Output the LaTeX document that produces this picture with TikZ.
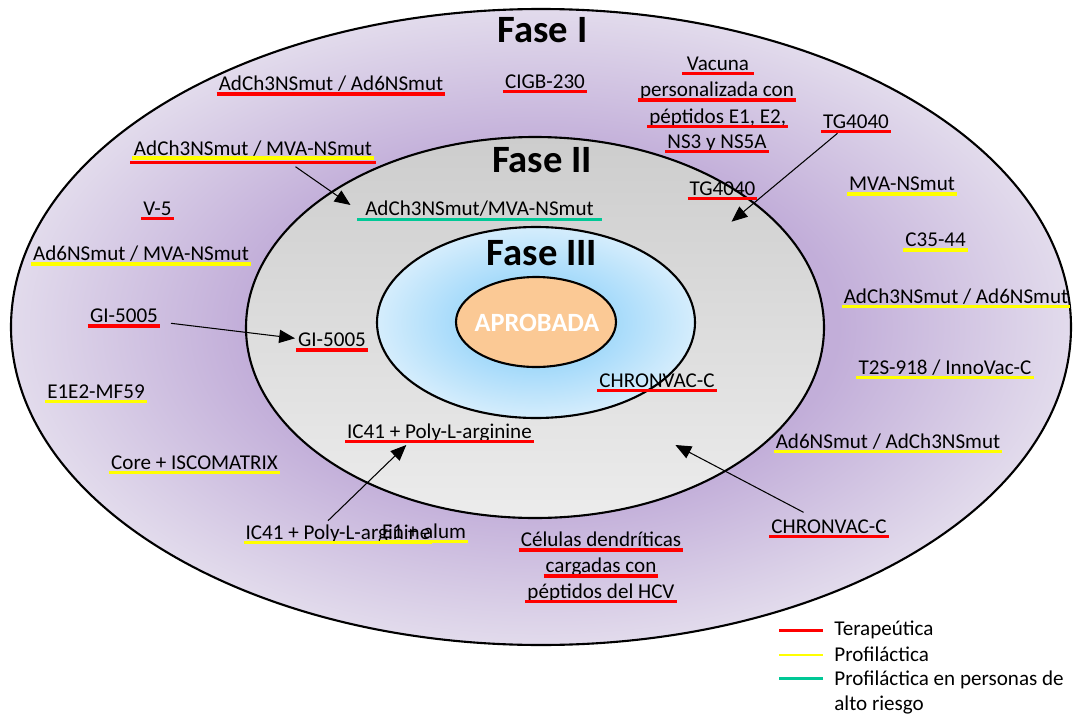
\documentclass[tikz,border=0pt]{standalone}
\usepackage{fontspec}
\setmainfont{Carlito}
\usepackage{tikz}
\usepackage{xcolor}
\usetikzlibrary{arrows.meta,calc}
\definecolor{lavdark}{HTML}{C2AED9}
\definecolor{lavlight}{HTML}{E2DBEC}
\definecolor{graytop}{HTML}{CDCDCD}
\definecolor{graybot}{HTML}{ECECEC}
\definecolor{blueinner}{HTML}{9DD7FA}
\definecolor{blueouter}{HTML}{D5EDFC}
\definecolor{peach}{HTML}{FBC995}
\definecolor{ulred}{HTML}{FF0000}
\definecolor{ulyellow}{HTML}{FFFF00}
\definecolor{ulgreen}{HTML}{00C896}
\pgfdeclareradialshading{lavring}{\pgfpoint{0bp}{0bp}}{color(0bp)=(lavdark); color(14bp)=(lavdark); color(25bp)=(lavlight); color(50bp)=(lavlight)}
\pgfdeclareradialshading{blueglow}{\pgfpoint{0bp}{0bp}}{color(0bp)=(blueinner); color(10bp)=(blueinner); color(25bp)=(blueouter); color(50bp)=(blueouter)}
\tikzset{
  ring/.style={draw=black,line width=1.2pt},
  fase/.style={font=\fontsize{22}{26}\selectfont\bfseries,anchor=base,inner sep=0pt},
  lbl/.style={font=\fontsize{12}{14}\selectfont,anchor=base,inner xsep=1pt,inner ysep=0pt},
  uline/.style={line width=1.9pt,-},
  terlbl/.style={lbl,append after command={
      ([yshift=-1.9pt]\tikzlastnode.base west) edge[uline,draw=ulred]
      ([yshift=-1.9pt]\tikzlastnode.base east)}},
  prolbl/.style={lbl,append after command={
      ([yshift=-1.9pt]\tikzlastnode.base west) edge[uline,draw=ulyellow]
      ([yshift=-1.9pt]\tikzlastnode.base east)}},
  risklbl/.style={lbl,append after command={
      ([yshift=-2.6pt]\tikzlastnode.base west) edge[uline,draw=ulgreen,line width=1.6pt]
      ([yshift=-2.6pt]\tikzlastnode.base east)}},
  bothlbl/.style={lbl,append after command={
      ([xshift=-1pt,yshift=-4.2pt]\tikzlastnode.base west) edge[uline,draw=ulred,line width=1.5pt]
      ([xshift=1pt,yshift=-4.2pt]\tikzlastnode.base east)
      ([yshift=-1.5pt]\tikzlastnode.base west) edge[uline,draw=ulyellow,line width=2.2pt]
      ([yshift=-1.5pt]\tikzlastnode.base east)}},
  arr/.style={-{Triangle[length=9pt,width=7.5pt]},line width=0.6pt,draw=black},
  key/.style={font=\fontsize{12}{14}\selectfont,anchor=base west,inner sep=0pt},
  keyline/.style={line width=1.6pt}
}
\begin{document}
\begin{tikzpicture}[x=0.02cm,y=-0.02cm]
    \path[use as bounding box] (0,0) rectangle (1073,717);

    \path[ring,shading=lavring] (541,327) ellipse [x radius=530,y radius=318];
    \path[ring,top color=graytop,bottom color=graybot] (535,327.5) ellipse [x radius=289,y radius=190.5];
    \path[ring,shading=blueglow] (536,322.5) ellipse [x radius=159,y radius=95.5];
    \path[ring,fill=peach] (536,322) ellipse [x radius=80,y radius=45];

    \node[fase] (faseI) at (542.5,42) {Fase I};
    \node[fase] (faseII) at (542,172) {Fase II};
    \node[fase] (faseIII) at (542,265) {Fase III};
    \node[fase,font=\fontsize{15}{18}\selectfont\bfseries,text=white] (aprobada) at (537,331) {APROBADA};

    \node[terlbl] (adad) at (331,90.7) {AdCh3NSmut / Ad6NSmut};
    \node[terlbl] (cigb) at (545,88.3) {CIGB-230};
    \node[terlbl,inner xsep=2.5pt] (vac1) at (718,70) {Vacuna};
    \node[terlbl] (vac2) at (717,96.7) {personalizada con};
    \node[terlbl] (vac3) at (717.7,123.3) {péptidos E1, E2,};
    \node[terlbl] (vac4) at (717,148.3) {NS3 y NS5A};
    \node[terlbl] (tgI) at (856,128.3) {TG4040};
    \node[bothlbl] (admva) at (253,155) {AdCh3NSmut / MVA-NSmut};
    \node[risklbl,inner xsep=4.5pt] (admvaII) at (479.5,215) {AdCh3NSmut/MVA-NSmut};
    \node[terlbl] (tgII) at (722.5,195) {TG4040};
    \node[prolbl] (mva) at (902,190.7) {MVA-NSmut};
    \node[terlbl] (vfive) at (157.5,215) {V-5};
    \node[prolbl] (cthirty) at (935.6,246.7) {C35-44};
    \node[prolbl] (adsixmva) at (141,260.7) {Ad6NSmut / MVA-NSmut};
    \node[prolbl] (adadR) at (956,303.3) {AdCh3NSmut / Ad6NSmut};
    \node[terlbl] (giI) at (124,322.7) {GI-5005};
    \node[terlbl] (giII) at (332,346.7) {GI-5005};
    \node[prolbl] (tts) at (945,374) {T2S-918 / InnoVac-C};
    \node[terlbl] (chIII) at (657,387.3) {CHRONVAC-C};
    \node[prolbl] (eoneetwo) at (96,398.3) {E1E2-MF59};
    \node[terlbl] (icII) at (439.5,438.3) {IC41 + Poly-L-arginine};
    \node[prolbl] (adsixad) at (888,448.3) {Ad6NSmut / AdCh3NSmut};
    \node[prolbl] (core) at (194.5,469) {Core + ISCOMATRIX};
    \node[terlbl] (chI) at (829,533.3) {CHRONVAC-C};
    \node[prolbl] (icI) at (338,539.3) {IC41 + Poly-L-arginine};
    \node[prolbl] (alum) at (424,538.3) {E1 + alum};
    \node[terlbl] (cel1) at (601,546.7) {Células dendríticas};
    \node[terlbl] (cel2) at (601,572.7) {cargadas con};
    \node[terlbl] (cel3) at (601,598.3) {péptidos del HCV};

    \coordinate (chtip) at (675.4,445);
    \draw[arr] ($(admva.base)+(42.5,11.7)$) -- ($(admvaII.base)+(-129,-10)$);
    \draw[arr] ($(tgI.base)+(-18.5,5)$) -- ($(tgII.base)+(9,26.7)$);
    \draw[arr] ($(giI.base)+(47,0.6)$) -- ($(giII.base)+(-37,-8.4)$);
    \draw[arr] ($(icI.base)+(-10,-18.6)$) -- ($(icII.base)+(-33.2,6.7)$);
    \draw[arr] ($(chI.base)+(-25.5,-21)$) -- (chtip);

    \node[key] (kter) at (834,635) {Terapeútica};
    \node[key] (kpro) at (834,661.7) {Profiláctica};
    \node[key] (krisk) at (834,685) {Profiláctica en personas de};
    \node[key] (krisk2) at (834,710) {alto riesgo};
    \draw[keyline,draw=ulred] ($(kter.base west)+(-55,-4.3)$) -- ($(kter.base west)+(-11,-4.3)$);
    \draw[keyline,draw=ulyellow] ($(kpro.base west)+(-55,-6.7)$) -- ($(kpro.base west)+(-11,-6.7)$);
    \draw[keyline,draw=ulgreen] ($(krisk.base west)+(-55,-6.7)$) -- ($(krisk.base west)+(-11,-6.7)$);
  \end{tikzpicture}
\end{document}
